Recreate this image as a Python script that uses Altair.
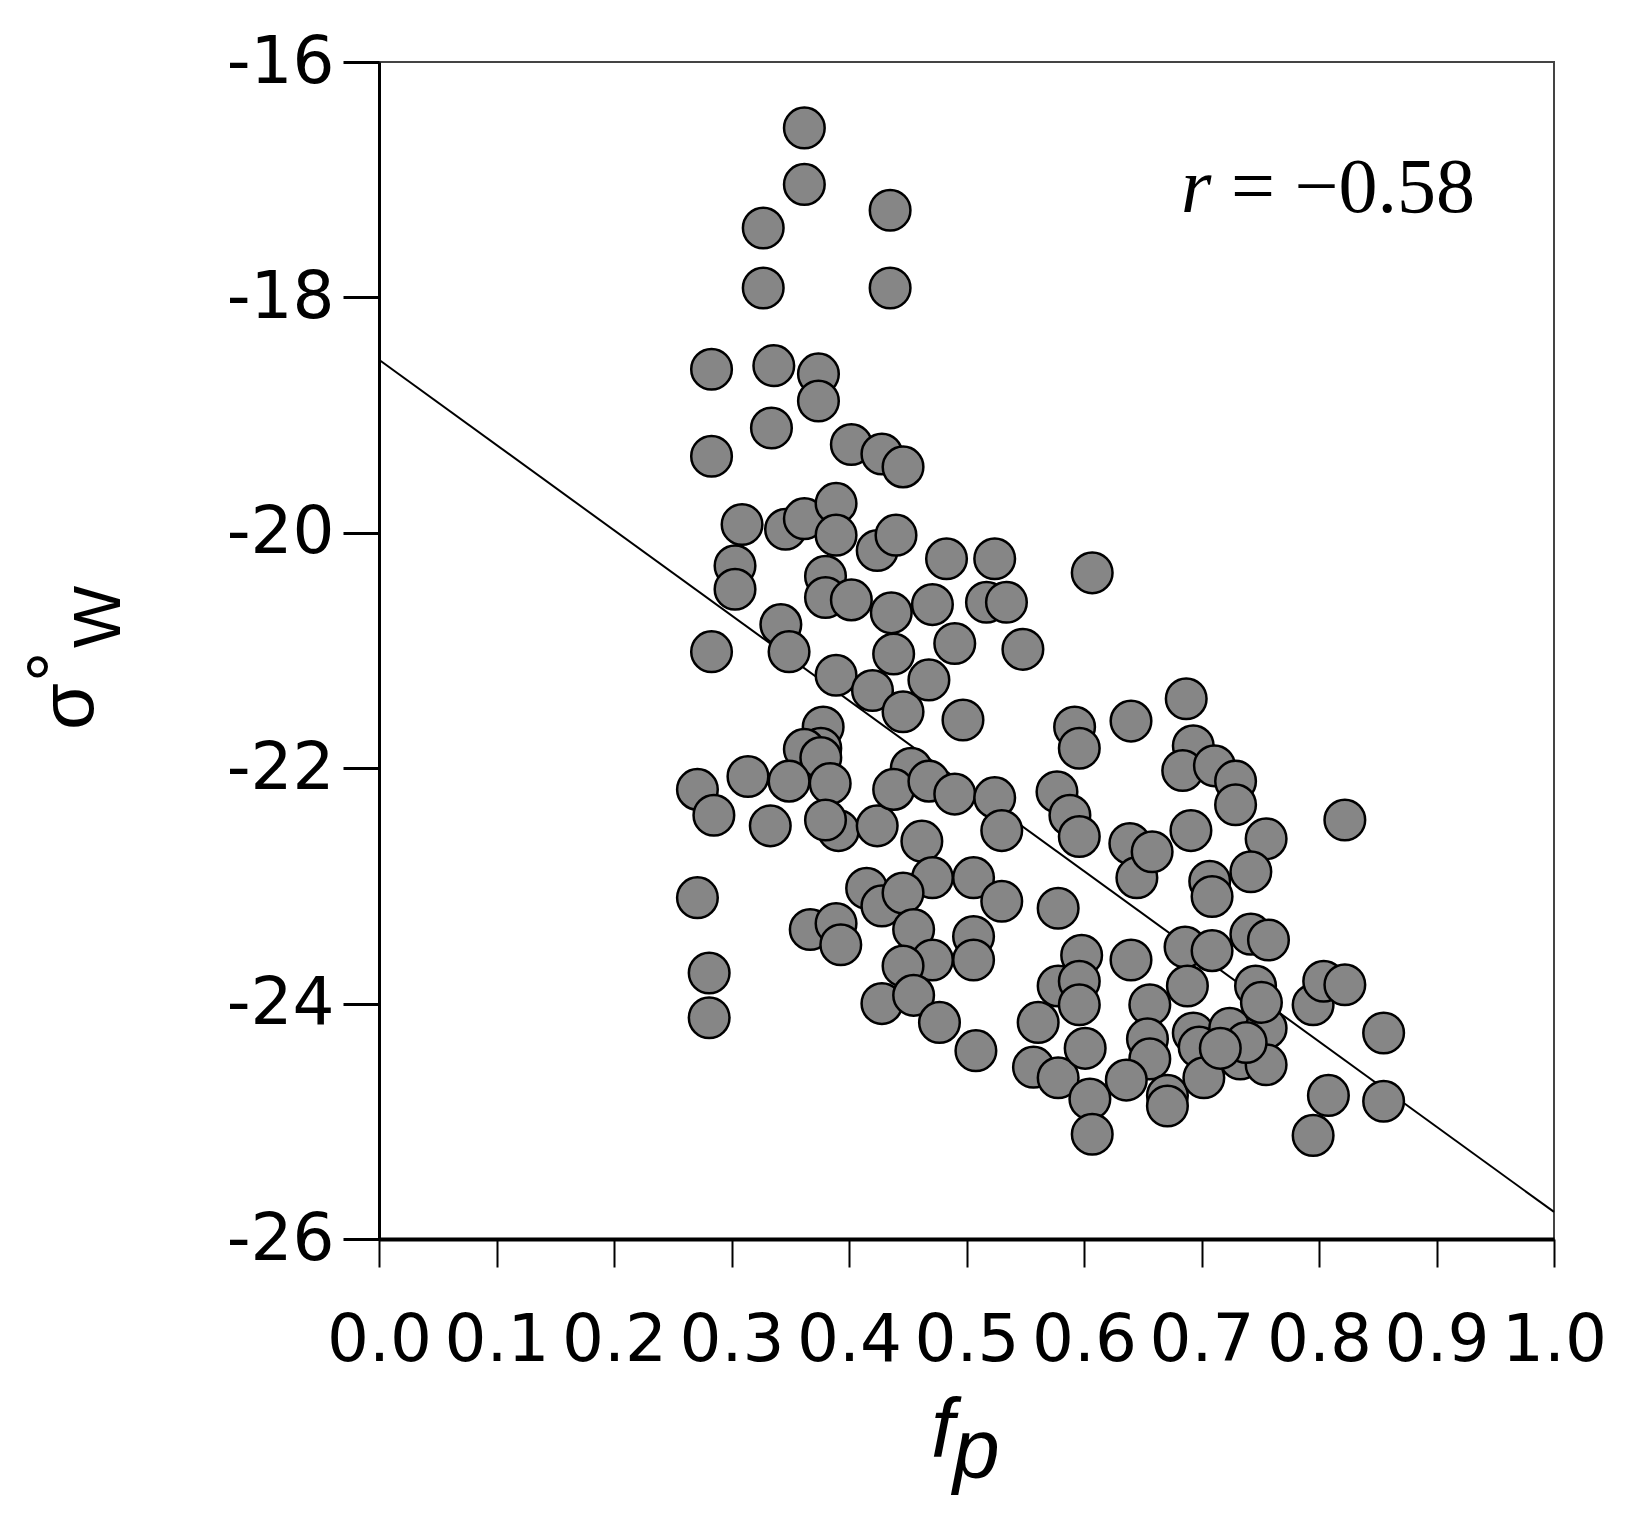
import altair as alt
import pandas as pd

# Scatter data (f_p, sigma0_W in dB)
fp = [0.362, 0.362, 0.435, 0.327, 0.327, 0.435, 0.283, 0.336, 0.374, 0.374,
      0.334, 0.283, 0.402, 0.428, 0.446, 0.309, 0.346, 0.362, 0.389, 0.389,
      0.424, 0.440, 0.483, 0.524, 0.607, 0.303, 0.303, 0.380, 0.380, 0.402,
      0.436, 0.471, 0.517, 0.534, 0.342, 0.349, 0.283, 0.438, 0.490, 0.548,
      0.389, 0.420, 0.446, 0.468, 0.497, 0.592, 0.640, 0.687, 0.693, 0.596,
      0.378, 0.376, 0.362, 0.376, 0.271, 0.285, 0.314, 0.349, 0.333, 0.384,
      0.391, 0.380, 0.424, 0.453, 0.438, 0.468, 0.490, 0.524, 0.530, 0.462,
      0.577, 0.588, 0.596, 0.639, 0.645, 0.658, 0.684, 0.691, 0.711, 0.729,
      0.729, 0.755, 0.742, 0.707, 0.709, 0.822, 0.471, 0.506, 0.415, 0.428,
      0.446, 0.530, 0.578, 0.271, 0.367, 0.389, 0.393, 0.455, 0.506, 0.506,
      0.471, 0.446, 0.598, 0.640, 0.686, 0.709, 0.742, 0.757, 0.281, 0.281,
      0.428, 0.455, 0.477, 0.508, 0.561, 0.578, 0.596, 0.596, 0.557, 0.578,
      0.601, 0.605, 0.607, 0.656, 0.654, 0.656, 0.671, 0.671, 0.688, 0.693,
      0.698, 0.702, 0.724, 0.733, 0.746, 0.755, 0.755, 0.751, 0.795, 0.804,
      0.822, 0.808, 0.795, 0.855, 0.855, 0.738, 0.716, 0.636]
sigma = [-16.56, -17.04, -17.26, -17.41, -17.92, -17.92, -18.61, -18.58, -18.65, -18.88,
         -19.11, -19.35, -19.25, -19.33, -19.44, -19.93, -19.97, -19.88, -19.75, -20.02,
         -20.15, -20.02, -20.22, -20.22, -20.34, -20.28, -20.48, -20.37, -20.55, -20.57,
         -20.68, -20.61, -20.59, -20.59, -20.78, -21.01, -21.01, -21.03, -20.94, -20.99,
         -21.21, -21.34, -21.52, -21.25, -21.59, -21.65, -21.60, -21.41, -21.81, -21.83,
         -21.65, -21.83, -21.84, -21.91, -22.18, -22.40, -22.07, -22.11, -22.49, -22.13,
         -22.53, -22.44, -22.49, -22.00, -22.18, -22.11, -22.22, -22.25, -22.53, -22.62,
         -22.20, -22.40, -22.58, -22.64, -22.93, -22.71, -22.02, -22.53, -21.98, -22.11,
         -22.31, -22.60, -22.88, -22.96, -23.09, -22.44, -22.93, -22.93, -23.02, -23.17,
         -23.06, -23.13, -23.19, -23.10, -23.37, -23.32, -23.50, -23.37, -23.43, -23.63,
         -23.63, -23.68, -23.59, -23.63, -23.52, -23.55, -23.41, -23.46, -23.74, -24.12,
         -24.00, -23.93, -24.16, -24.40, -24.16, -23.85, -23.81, -24.01, -24.54, -24.63,
         -24.38, -24.81, -25.11, -24.01, -24.30, -24.47, -24.78, -24.87, -23.85, -24.25,
         -24.37, -24.63, -24.21, -24.47, -23.85, -24.21, -24.52, -23.99, -24.01, -23.81,
         -23.84, -24.78, -25.12, -24.25, -24.83, -24.33, -24.38, -24.65]

# Regression line end points
fit_x = [0.0, 1.0]
fit_y = [-18.53, -25.77]

x_ticks = [0.0, 0.1, 0.2, 0.3, 0.4, 0.5, 0.6, 0.7, 0.8, 0.9, 1.0]
y_ticks = [-26, -24, -22, -20, -18, -16]

pts = pd.DataFrame({"fp": fp, "sigma": sigma})
fit = pd.DataFrame({"fp": fit_x, "sigma": fit_y})

xscale = alt.Scale(domain=[0, 1], nice=False, zero=False)
yscale = alt.Scale(domain=[-26, -16], nice=False, zero=False)

xaxis = alt.Axis(values=x_ticks, format=".1f", title=None, grid=False,
                 domainColor="black", domainWidth=4, tickColor="black",
                 tickWidth=2, tickSize=28, labelFont="DejaVu Sans",
                 labelFontSize=66, labelColor="black", labelPadding=41,
                 labelFlush=False, labelOverlap=False)
yaxis = alt.Axis(values=y_ticks, title=None, grid=False,
                 labelExpr="'-' + format(abs(datum.value), 'd')",
                 domainColor="black", domainWidth=3, tickColor="black",
                 tickWidth=3, tickSize=36, labelFont="DejaVu Sans",
                 labelFontSize=66, labelColor="black", labelPadding=9,
                 labelFlush=False, labelOverlap=False)

line = alt.Chart(fit).mark_line(color="black", strokeWidth=2).encode(
    x=alt.X("fp:Q", scale=xscale, axis=xaxis),
    y=alt.Y("sigma:Q", scale=yscale, axis=yaxis),
)

points = alt.Chart(pts).mark_point(
    shape="circle", filled=True, fill="#868686", stroke="black",
    strokeWidth=2.5, size=1650, opacity=1, fillOpacity=1, strokeOpacity=1
).encode(
    x=alt.X("fp:Q", scale=xscale),
    y=alt.Y("sigma:Q", scale=yscale),
)

def txt(s, x, y, size, font="Liberation Sans", style="normal", angle=0, align="left"):
    return alt.Chart(pd.DataFrame({"t": [s]})).mark_text(
        font=font, fontSize=size, fontStyle=style, angle=angle, align=align,
        baseline="alphabetic", color="black"
    ).encode(text="t:N", x=alt.value(x), y=alt.value(y))

r_label = txt("r", 802, 150, 78, font="Liberation Serif", style="italic")
r_value = txt("= \u22120.58", 852, 150, 78, font="Liberation Serif")

# y title: sigma, superscript degree, subscript W (rotated)
ys = txt("\u03c3", -286, 668, 76, angle=270)
yd = txt("\u00b0", -299, 620, 76, angle=270)
yw = txt("W", -259, 586, 66, angle=270)

# x title: italic f with subscript p
xf = txt("f", 552, 1395, 84, style="italic")
xp = txt("p", 574, 1416, 84, style="italic")

chart = alt.layer(line, points, r_label, r_value, ys, yd, yw, xf, xp).properties(
    width=1175, height=1177,
    autosize=alt.AutoSizeParams(type="none"),
    padding={"left": 371, "top": 54, "right": 60, "bottom": 281},
).configure_view(stroke="#444444", strokeWidth=2)

chart.save("out.html", embed_options={"renderer": "svg", "actions": False})
